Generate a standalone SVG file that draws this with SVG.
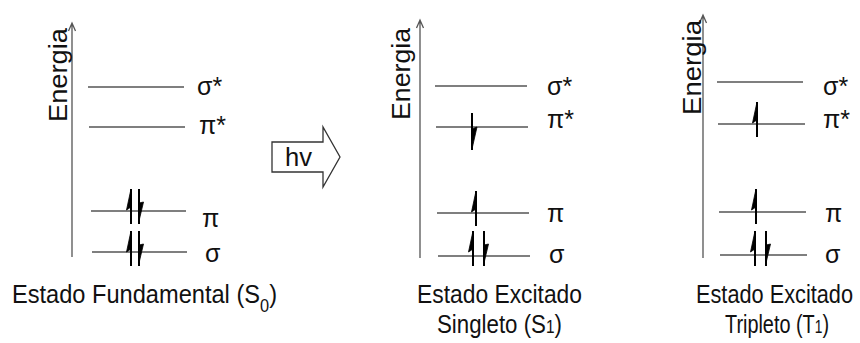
<svg xmlns="http://www.w3.org/2000/svg" width="860" height="343" viewBox="0 0 860 343">
<defs>
<style>
.lvl{stroke:#555;stroke-width:1.6;fill:none}
.ax{stroke:#555;stroke-width:1.3;fill:none}
.t{font-family:"Liberation Sans",Arial,sans-serif;fill:#111}
.lab{font-size:25px}
.big{font-size:26px}
.e{stroke:#000;stroke-width:2;fill:none}
.b{fill:#000;stroke:#000;stroke-width:0.8;stroke-linejoin:round}
</style>
<g id="up"><line class="e" x1="0" y1="0" x2="0" y2="35"/><polygon class="b" points="0,0 -4.5,21 0,18"/></g>
<g id="dn"><line class="e" x1="0" y1="0" x2="0" y2="35"/><polygon class="b" points="0,14 4.5,13 0,32"/></g>
</defs>
<rect width="860" height="343" fill="#fff"/>

<g id="panel-s0">
<path class="ax" d="M72,257 V23 M68.5,31 L72,23 L75.5,31"/>
<text class="t big" transform="translate(67,122) rotate(-90)" textLength="94" lengthAdjust="spacingAndGlyphs">Energia</text>
<line class="lvl" x1="88" y1="87" x2="184" y2="87"/>
<line class="lvl" x1="89" y1="127" x2="185" y2="127"/>
<line class="lvl" x1="91" y1="211" x2="186" y2="211"/>
<line class="lvl" x1="92" y1="252" x2="187" y2="252"/>
<text class="t lab" x="197" y="95">σ*</text>
<text class="t lab" x="199" y="134">π*</text>
<text class="t lab" x="202" y="227">π</text>
<text class="t lab" x="205" y="262">σ</text>
<use href="#up" x="131" y="189"/>
<use href="#dn" x="139" y="189"/>
<use href="#up" x="131" y="231"/>
<use href="#dn" x="139" y="231"/>
<text class="t big" x="12" y="303" textLength="265" lengthAdjust="spacingAndGlyphs">Estado Fundamental (S<tspan font-size="18" dy="9">0</tspan><tspan dy="-9">)</tspan></text>
</g>

<g id="hv-arrow">
<polygon points="272,142 323,142 323,127 340,157 323,187 323,172 272,172" fill="#fff" stroke="#333" stroke-width="1.3"/>
<text class="t" font-size="25" x="285" y="166" textLength="27" lengthAdjust="spacingAndGlyphs">hv</text>
</g>

<g id="panel-s1">
<path class="ax" d="M420,258 V20 M416.5,28 L420,20 L423.5,28"/>
<text class="t big" transform="translate(410,120) rotate(-90)" textLength="92" lengthAdjust="spacingAndGlyphs">Energia</text>
<line class="lvl" x1="435" y1="86" x2="527" y2="86"/>
<line class="lvl" x1="436" y1="127" x2="528" y2="127"/>
<line class="lvl" x1="437" y1="213" x2="529" y2="213"/>
<line class="lvl" x1="438" y1="256" x2="530" y2="256"/>
<text class="t lab" x="547" y="95">σ*</text>
<text class="t lab" x="547" y="128">π*</text>
<text class="t lab" x="547" y="222">π</text>
<text class="t lab" x="549" y="263">σ</text>
<g transform="translate(472,113)"><line class="e" x1="0" y1="0" x2="0" y2="37"/><polygon class="b" points="0,16 5,14 0,36"/></g>
<use href="#up" x="476" y="191"/>
<use href="#up" x="473" y="231"/>
<use href="#dn" x="484" y="231"/>
<text class="t big" x="417" y="303" textLength="165" lengthAdjust="spacingAndGlyphs">Estado Excitado</text>
<text class="t big" x="437" y="333" textLength="125" lengthAdjust="spacingAndGlyphs">Singleto (S<tspan font-size="18">1</tspan>)</text>
</g>

<g id="panel-t1">
<path class="ax" d="M703,258 V15 M699.5,23 L703,15 L706.5,23"/>
<text class="t big" transform="translate(701,115) rotate(-90)" textLength="95" lengthAdjust="spacingAndGlyphs">Energia</text>
<line class="lvl" x1="717" y1="82" x2="803" y2="82"/>
<line class="lvl" x1="718" y1="124" x2="805" y2="124"/>
<line class="lvl" x1="719" y1="212" x2="806" y2="212"/>
<line class="lvl" x1="720" y1="255" x2="807" y2="255"/>
<text class="t lab" x="823" y="95">σ*</text>
<text class="t lab" x="823" y="128">π*</text>
<text class="t lab" x="825" y="222">π</text>
<text class="t lab" x="825" y="263">σ</text>
<use href="#up" x="757" y="102"/>
<use href="#up" x="756" y="189"/>
<use href="#up" x="755" y="231"/>
<use href="#dn" x="766" y="231"/>
<text class="t big" x="696" y="303" textLength="157" lengthAdjust="spacingAndGlyphs">Estado Excitado</text>
<text class="t big" x="725" y="333" textLength="104" lengthAdjust="spacingAndGlyphs">Tripleto (T<tspan font-size="18">1</tspan>)</text>
</g>
</svg>
